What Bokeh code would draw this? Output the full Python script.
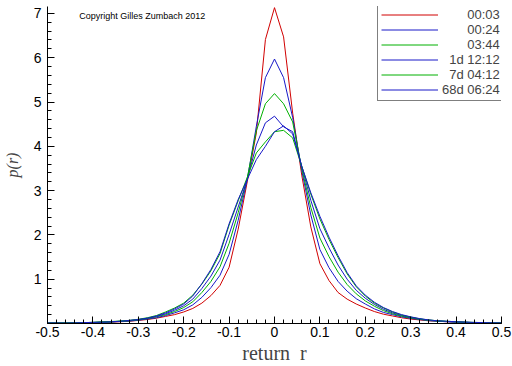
from bokeh.plotting import figure
from bokeh.models import FixedTicker, Legend, LegendItem, Label, Range1d
from bokeh.embed import file_html
from bokeh.resources import INLINE
import numpy as np

# ---- data ----
r_grid = [-0.50, -0.48, -0.46, -0.44, -0.42, -0.40, -0.38, -0.36, -0.34, -0.32,
          -0.30, -0.28, -0.26, -0.24, -0.22, -0.20, -0.18, -0.16, -0.14, -0.12,
          -0.10, -0.08, -0.06, -0.04, -0.02, 0.00, 0.02, 0.04, 0.06, 0.08,
          0.10, 0.12, 0.14, 0.16, 0.18, 0.20, 0.22, 0.24, 0.26, 0.28,
          0.30, 0.32, 0.34, 0.36, 0.38, 0.40, 0.42, 0.44, 0.46, 0.48, 0.50]

p_0003 = [.01, .01, .01, .015, .02, .02, .025, .03, .04, .05,
          .07, .09, .12, .16, .20, .26, .34, .46, .63, .86,
          1.27, 2.13, 3.20, 4.30, 6.41, 7.13, 6.47, 4.75, 3.35, 2.18,
          1.35, .97, .70, .55, .44, .35, .27, .21, .17, .13,
          .10, .08, .06, .05, .04, .03, .025, .02, .015, .01, .01]

p_0024 = [.01, .01, .01, .015, .02, .02, .03, .035, .045, .055,
          .075, .10, .13, .18, .24, .31, .42, .59, .81, 1.09,
          1.56, 2.33, 3.25, 4.45, 5.55, 5.97, 5.55, 4.65, 3.45, 2.45,
          1.67, 1.26, .95, .73, .56, .44, .33, .25, .20, .15,
          .115, .09, .065, .05, .04, .03, .025, .02, .015, .01, .01]

p_0344 = [.01, .01, .01, .015, .02, .025, .03, .035, .05, .06,
          .08, .11, .15, .20, .27, .36, .49, .70, .95, 1.28,
          1.81, 2.50, 3.28, 4.35, 4.96, 5.19, 4.96, 4.55, 3.50, 2.62,
          1.93, 1.51, 1.16, .88, .67, .51, .39, .29, .22, .165,
          .125, .095, .07, .055, .045, .035, .025, .02, .015, .01, .01]

p_1d1212 = [.01, .01, .01, .015, .02, .025, .03, .04, .05, .065,
            .085, .12, .16, .22, .30, .40, .55, .79, 1.07, 1.43,
            2.01, 2.63, 3.25, 4.03, 4.53, 4.68, 4.44, 4.33, 3.55, 2.78,
            2.14, 1.71, 1.32, 1.00, .75, .57, .43, .32, .24, .18,
            .135, .10, .075, .06, .045, .035, .03, .02, .015, .01, .01]

p_7d0412 = [.01, .01, .015, .02, .02, .025, .035, .045, .055, .07,
            .095, .13, .18, .26, .35, .46, .64, .89, 1.19, 1.58,
            2.22, 2.77, 3.30, 3.85, 4.10, 4.33, 4.36, 4.19, 3.55, 2.92,
            2.36, 1.90, 1.49, 1.12, .83, .62, .46, .35, .26, .19,
            .145, .105, .08, .06, .05, .04, .03, .025, .02, .015, .01]

p_68d0624 = [.01, .01, .01, .015, .02, .025, .03, .04, .05, .07,
             .09, .12, .17, .24, .33, .44, .62, .90, 1.22, 1.62,
             2.25, 2.80, 3.25, 3.70, 4.00, 4.33, 4.46, 4.28, 3.55, 2.95,
             2.42, 1.95, 1.53, 1.15, .85, .64, .48, .36, .27, .20,
             .15, .11, .08, .06, .05, .04, .03, .025, .02, .015, .01]

series_labels = ["00:03", "00:24", "03:44", "1d 12:12", "7d 04:12", "68d 06:24"]
series_values = [p_0003, p_0024, p_0344, p_1d1212, p_7d0412, p_68d0624]
series_colors = ["#d00000", "#1818c8", "#00b000", "#1818c8", "#00b000", "#1818c8"]

x_ticks = [-0.5, -0.4, -0.3, -0.2, -0.1, 0.0, 0.1, 0.2, 0.3, 0.4, 0.5]
x_tick_labels = ["-0.5", "-0.4", "-0.3", "-0.2", "-0.1", "0", "0.1", "0.2", "0.3", "0.4", "0.5"]
y_ticks = [1, 2, 3, 4, 5, 6, 7]
y_tick_labels = ["1", "2", "3", "4", "5", "6", "7"]


def right_pad(label):
    # right-align legend labels: pad with digit-width / period-width spaces
    fig_sp, punct_sp = "\u2007", "\u2008"
    digits = sum(ch.isalnum() for ch in label)
    narrow = sum(ch in ": " for ch in label)
    return fig_sp * (7 - digits) + punct_sp * (2 - narrow) + label


# ---- figure ----
p = figure(width=512, height=366,
           x_range=Range1d(-0.5, 0.5), y_range=Range1d(0, 7.156),
           output_backend="svg", toolbar_location=None,
           min_border_left=46, min_border_right=11,
           min_border_top=6, min_border_bottom=38)
p.outline_line_color = None
p.xgrid.visible = False
p.ygrid.visible = False
p.background_fill_color = "white"
p.border_fill_color = "white"

items = []
for lab, vals, col in zip(series_labels, series_values, series_colors):
    rr = p.line(r_grid, vals, line_color=col, line_width=1)
    items.append(LegendItem(label=right_pad(lab), renderers=[rr]))

# axes
sans = "Liberation Sans"
serif = "Liberation Serif"
p.xaxis.ticker = FixedTicker(ticks=x_ticks,
                             minor_ticks=[round(v, 2) for v in np.arange(-0.5, 0.5001, 0.02)])
p.xaxis.major_label_overrides = {t: l for t, l in zip(x_ticks, x_tick_labels)}
p.yaxis.ticker = FixedTicker(ticks=y_ticks,
                             minor_ticks=[round(v, 1) for v in np.arange(0, 7.15, 0.2)])
p.yaxis.major_label_overrides = {t: l for t, l in zip(y_ticks, y_tick_labels)}

for ax in (p.xaxis[0], p.yaxis[0]):
    ax.axis_line_color = "black"
    ax.major_tick_line_color = "black"
    ax.minor_tick_line_color = "black"
    ax.major_tick_in = 7
    ax.major_tick_out = 0
    ax.minor_tick_in = 4
    ax.minor_tick_out = 0
    ax.major_label_text_font = sans
    ax.major_label_text_font_size = "14px"
    ax.major_label_text_color = "black"

p.xaxis.major_label_standoff = 3
p.yaxis.major_label_standoff = 6
p.yaxis.major_label_orientation = "horizontal"

p.xaxis.axis_label = "return\u2002r"
p.xaxis.axis_label_text_font = serif
p.xaxis.axis_label_text_font_style = "normal"
p.xaxis.axis_label_text_font_size = "20px"
p.xaxis.axis_label_standoff = 2

p.yaxis.axis_label = "p(r)"
p.yaxis.axis_label_text_font = serif
p.yaxis.axis_label_text_font_style = "italic"
p.yaxis.axis_label_text_font_size = "16px"
p.yaxis.axis_label_standoff = 10

# copyright note
p.add_layout(Label(x=-0.43, y=6.94, text="Copyright Gilles Zumbach 2012",
                   text_font=sans, text_font_size="9px", text_baseline="middle",
                   text_color="black"))

legend = Legend(items=items, location=(330, 222),
                glyph_width=57, glyph_height=15, label_height=15,
                label_standoff=4, label_width=50, spacing=0, padding=3, margin=0,
                border_line_color="black", border_line_width=1,
                background_fill_color="white", background_fill_alpha=1,
                label_text_font=sans, label_text_font_size="13px",
                label_text_baseline="middle")
p.add_layout(legend)

html = file_html(p, INLINE, title="p(r)")
html = html.replace("<head>", "<head><style>html,body{margin:0;padding:0;overflow:hidden}</style>", 1)
open("out.html", "w").write(html)
